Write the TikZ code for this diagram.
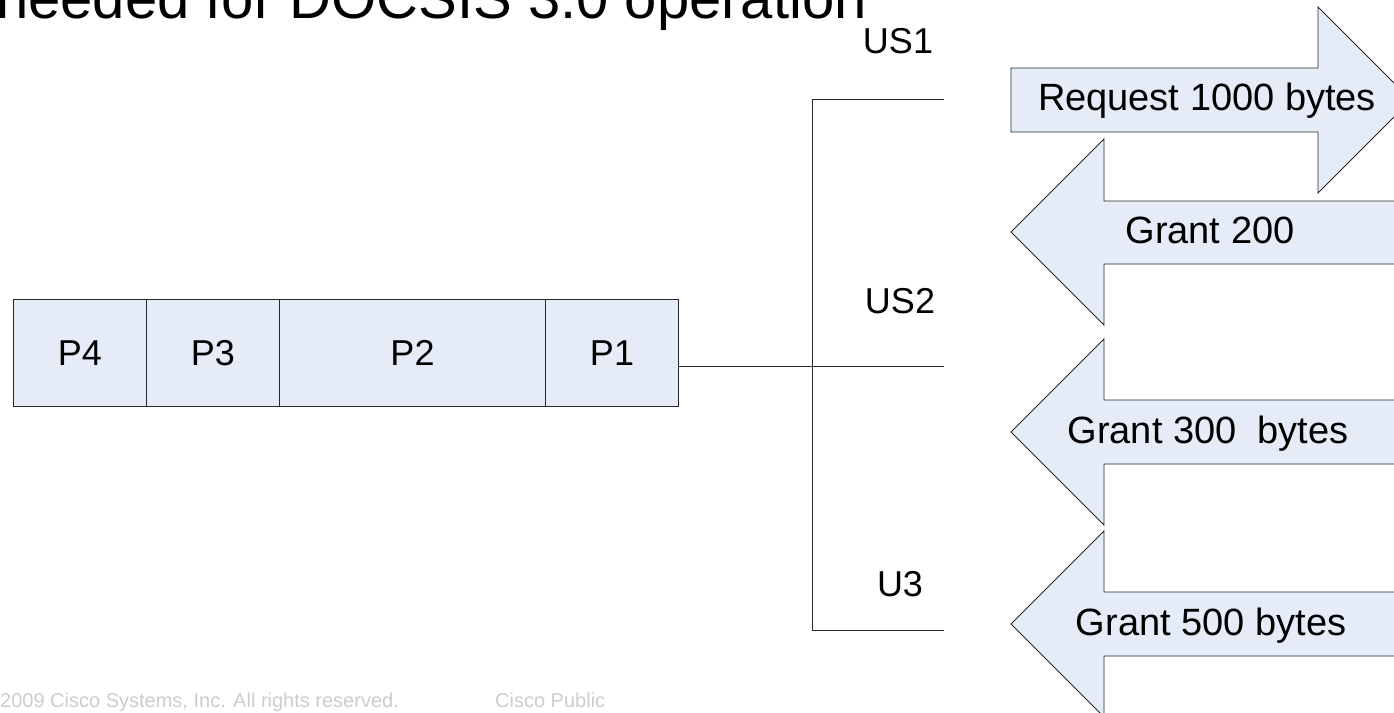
\documentclass[tikz,border=0pt]{standalone}
\usepackage{fontspec}
\setmainfont{Liberation Sans}
\definecolor{boxfill}{RGB}{230,236,247}
\definecolor{linecol}{RGB}{40,40,40}
\definecolor{footgray}{RGB}{205,205,205}
\begin{document}
\begin{tikzpicture}[x=1pt,y=-1pt,
  pbox/.style={draw=linecol, fill=boxfill, line width=1pt, minimum height=107pt,
    inner sep=0pt, anchor=north west, font=\fontsize{36}{43}\selectfont},
  bigarrow/.style={draw=linecol, fill=boxfill, line width=0.9pt, line join=miter},
  lbl/.style={font=\fontsize{36}{43}\selectfont, inner sep=0pt, anchor=base},
  albl/.style={font=\fontsize{38}{45}\selectfont, inner sep=0pt, anchor=base},
  bus/.style={draw=linecol, line width=1pt},
  foot/.style={font=\fontsize{20}{24}\selectfont, text=footgray, inner sep=0pt, anchor=base west}]
\useasboundingbox (0,0) rectangle (1394,712);
\fill[white] (0,0) rectangle (1394,712);

% title (cut off at the top)
\node[font=\fontsize{58}{70}\selectfont, inner sep=0pt, anchor=base west] (title) at (-4,18) {needed for DOCSIS 3.0 operation};

% packet boxes
\node[pbox, minimum width=133.3pt] (P4) at (12.7,299) {P4};
\node[pbox, minimum width=133pt] (P3) at (146,299) {P3};
\node[pbox, minimum width=266pt] (P2) at (279,299) {P2};
\node[pbox, minimum width=133pt] (P1) at (545,299) {P1};

% bus
\coordinate (bt) at (812,99);
\coordinate (bb) at (812,630);
\coordinate (t1) at (944,99);
\coordinate (t2) at (944,366);
\coordinate (t3) at (944,630);
\draw[bus] (t1) -- (bt) -- (bb) -- (t3);
\draw[bus] (P1.east |- t2) -- (t2);

\node[lbl] (us1) at (898,53) {US1};
\node[lbl] (us2) at (900,313) {US2};
\node[lbl] (u3) at (900,596) {U3};

% request arrow (pointing right)
\draw[bigarrow] (1011,68) -- (1318,68) -- (1318,7) -- (1411,100) -- (1318,193) -- (1318,132) -- (1011,132) -- cycle;
\node[albl] (req) at (1207,110) {Request 1000 bytes};

% grant arrows (pointing left)
\draw[bigarrow] (1430,201) -- (1104,201) -- (1104,139) -- (1011,232) -- (1104,325) -- (1104,264) -- (1430,264) -- cycle;
\node[albl] (g200) at (1210,243) {Grant 200};

\draw[bigarrow] (1430,400) -- (1104,400) -- (1104,339) -- (1011,432) -- (1104,525) -- (1104,464) -- (1430,464) -- cycle;
\node[albl] (g300) at (1208,443) {Grant 300\ \ bytes};

\draw[bigarrow] (1430,592) -- (1104,592) -- (1104,531) -- (1011,624) -- (1104,717) -- (1104,656) -- (1430,656) -- cycle;
\node[albl] (g500) at (1211,635) {Grant 500 bytes};

% footer
\node[foot] (copy) at (0,707) {2009 Cisco Systems, Inc. All rights reserved.};
\node[foot] (pub) at (495,707) {Cisco Public};
\end{tikzpicture}
\end{document}
